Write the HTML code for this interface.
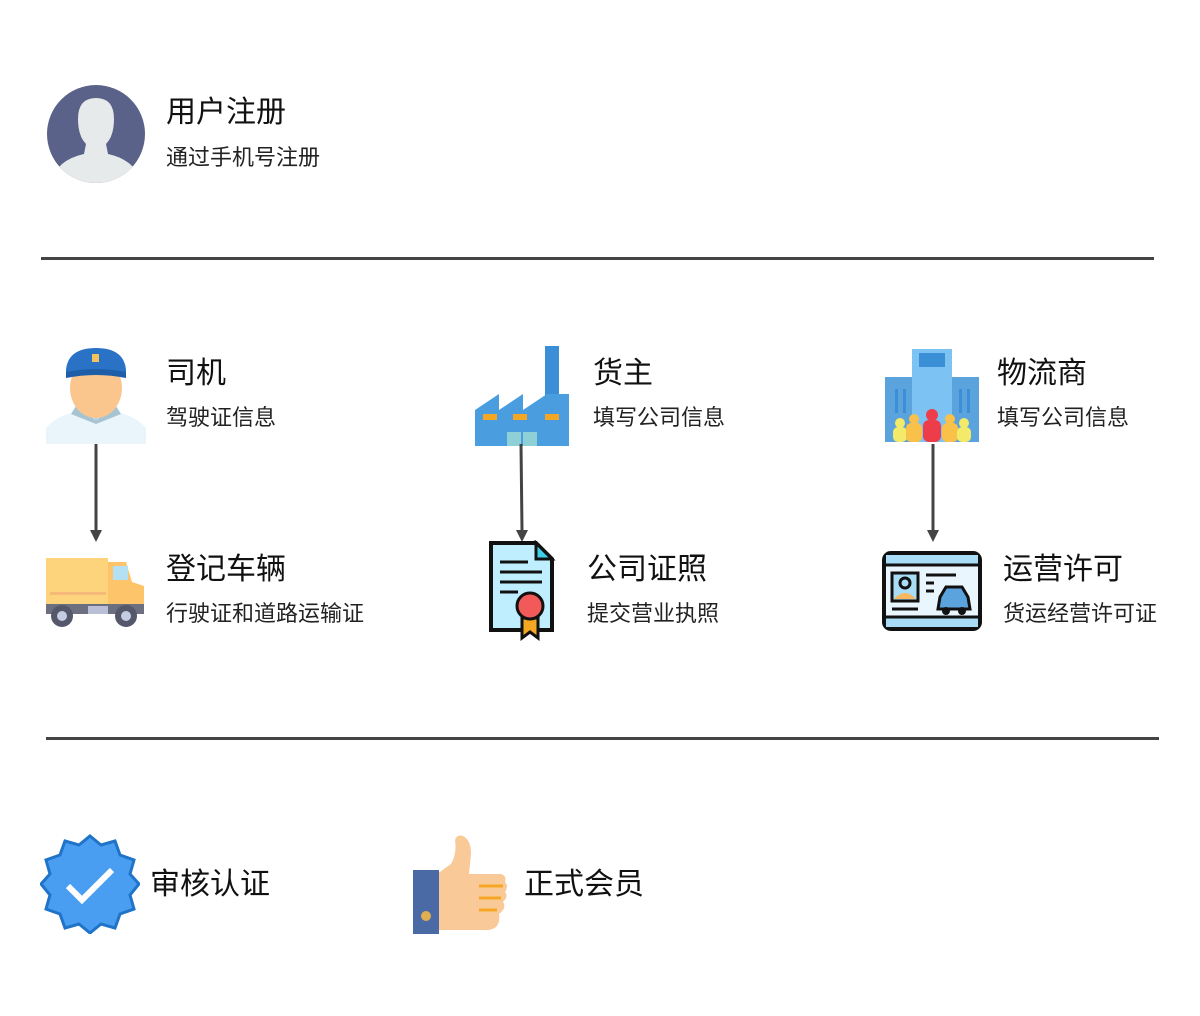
<!DOCTYPE html>
<html><head><meta charset="utf-8"><style>
body{margin:0;width:1200px;height:1016px;background:#fff;position:relative;overflow:hidden;font-family:"Liberation Sans","Noto Sans CJK SC",sans-serif;color:#111}
.t{position:absolute;font-size:30px;line-height:34px;white-space:nowrap}
.s{position:absolute;font-size:22px;line-height:26px;white-space:nowrap;color:#222}
.hr{position:absolute;height:3px;background:#444}
svg{position:absolute}
</style></head><body>
<svg style="left:46px;top:84px" width="100" height="100" viewBox="0 0 100 100">
<defs><clipPath id="c"><circle cx="50" cy="50" r="49"/></clipPath></defs>
<circle cx="50" cy="50" r="49" fill="#5a6289"/>
<g clip-path="url(#c)" fill="#e6eaea">
<path d="M32 35 Q32 14 50 14 Q68 14 68 35 Q68 52 60 60 L62 70 Q90 76 96 100 L4 100 Q10 76 38 70 L40 60 Q32 52 32 35Z"/></g></svg>
<div class="t" style="left:166px;top:96px">用户注册</div>
<div class="s" style="left:166px;top:145px">通过手机号注册</div>
<div class="hr" style="left:41px;top:257px;width:1113px"></div>

<svg style="left:46px;top:348px" width="100" height="96" viewBox="0 0 100 96">
<path d="M0 96 L0 80 Q10 68 30 64 L70 64 Q90 68 100 80 L100 96Z" fill="#eaf4fb"/>
<path d="M30 58 L50 72 L70 58 L75 66 L50 76 L25 66Z" fill="#a8c4d2"/>
<path d="M40 56 L60 56 L50 72Z" fill="#a8c4d2"/>
<ellipse cx="50" cy="40" rx="26" ry="30" fill="#fbc68e"/>
<path d="M20 22 Q22 0 50 0 Q78 0 80 22 L80 28 Q50 22 20 28Z" fill="#2a72c6"/>
<path d="M20 24 Q50 18 80 24 L80 30 Q50 24 20 30Z" fill="#1e5ea8"/>
<rect x="46" y="6" width="7" height="8" fill="#f6c35a"/></svg>
<div class="t" style="left:166px;top:357px">司机</div>
<div class="s" style="left:166px;top:405px">驾驶证信息</div>
<svg style="left:88px;top:444px" width="16" height="100"><line x1="8" y1="0" x2="8" y2="86" stroke="#444" stroke-width="3"/><path d="M2 86 L14 86 L8 98Z" fill="#444"/></svg>

<svg style="left:46px;top:556px" width="100" height="72" viewBox="0 0 100 72">
<rect x="0" y="2" width="62" height="46" fill="#fdd47b"/>
<rect x="4" y="36" width="56" height="3" fill="#f6b97a"/>
<path d="M62 6 L80 6 L86 26 L98 30 L98 56 L62 56Z" fill="#fdc46a"/>
<rect x="67" y="10" width="15" height="14" fill="#b4e0f4"/>
<rect x="0" y="48" width="98" height="10" fill="#6b6f80"/>
<rect x="42" y="50" width="20" height="8" fill="#b9bfd6"/>
<circle cx="16" cy="60" r="11" fill="#55586a"/><circle cx="16" cy="60" r="5" fill="#c5cbe0"/>
<circle cx="80" cy="60" r="11" fill="#55586a"/><circle cx="80" cy="60" r="5" fill="#c5cbe0"/></svg>
<div class="t" style="left:166px;top:553px">登记车辆</div>
<div class="s" style="left:166px;top:601px">行驶证和道路运输证</div>

<svg style="left:475px;top:346px" width="94" height="100" viewBox="0 0 94 100">
<rect x="70" y="0" width="14" height="60" fill="#3b8fd6"/>
<path d="M0 64 L24 48 L24 64 L48 48 L48 64 L72 48 L94 48 L94 100 L0 100Z" fill="#4a9ee0"/>
<rect x="8" y="68" width="14" height="6" fill="#f5a623"/><rect x="38" y="68" width="14" height="6" fill="#f5a623"/><rect x="70" y="68" width="14" height="6" fill="#f5a623"/>
<rect x="32" y="86" width="14" height="14" fill="#8ed0d6"/><rect x="48" y="86" width="14" height="14" fill="#8ed0d6"/></svg>
<div class="t" style="left:593px;top:357px">货主</div>
<div class="s" style="left:593px;top:405px">填写公司信息</div>
<svg style="left:514px;top:444px" width="16" height="100"><line x1="7" y1="0" x2="8" y2="86" stroke="#444" stroke-width="3"/><path d="M2 86 L14 86 L8 98Z" fill="#444"/></svg>

<svg style="left:488px;top:540px" width="68" height="102" viewBox="0 0 68 102">
<path d="M3 3 L48 3 L64 19 L64 90 L3 90Z" fill="#bfefff" stroke="#111" stroke-width="4"/>
<path d="M48 3 L48 19 L64 19Z" fill="#3ed0e8" stroke="#111" stroke-width="3"/>
<g stroke="#111" stroke-width="3"><line x1="12" y1="22" x2="40" y2="22"/><line x1="12" y1="32" x2="54" y2="32"/><line x1="12" y1="42" x2="54" y2="42"/><line x1="12" y1="52" x2="30" y2="52"/></g>
<path d="M34 78 L34 98 L42 92 L50 98 L50 78Z" fill="#f5a623" stroke="#111" stroke-width="3"/>
<circle cx="42" cy="66" r="13" fill="#f25a5a" stroke="#111" stroke-width="3"/></svg>
<div class="t" style="left:587px;top:553px">公司证照</div>
<div class="s" style="left:587px;top:601px">提交营业执照</div>

<svg style="left:885px;top:349px" width="94" height="93" viewBox="0 0 94 93">
<rect x="0" y="28" width="94" height="65" fill="#5aa3dd"/>
<rect x="27" y="0" width="40" height="93" fill="#7cc2f2"/>
<rect x="34" y="4" width="26" height="14" fill="#3b8fd6"/>
<g fill="#3b8fd6"><rect x="10" y="40" width="3" height="24"/><rect x="18" y="40" width="3" height="24"/><rect x="74" y="40" width="3" height="24"/><rect x="82" y="40" width="3" height="24"/></g>
<g><circle cx="15" cy="74" r="5" fill="#f4ea6a"/><rect x="8" y="78" width="14" height="15" rx="5" fill="#f4ea6a"/>
<circle cx="29" cy="70" r="5" fill="#f9c04a"/><rect x="21" y="74" width="16" height="19" rx="5" fill="#f9c04a"/>
<circle cx="65" cy="70" r="5" fill="#f9c04a"/><rect x="57" y="74" width="16" height="19" rx="5" fill="#f9c04a"/>
<circle cx="79" cy="74" r="5" fill="#f4ea6a"/><rect x="72" y="78" width="14" height="15" rx="5" fill="#f4ea6a"/>
<circle cx="47" cy="66" r="6" fill="#ee3d4a"/><rect x="38" y="71" width="18" height="22" rx="6" fill="#ee3d4a"/></g></svg>
<div class="t" style="left:997px;top:357px">物流商</div>
<div class="s" style="left:997px;top:405px">填写公司信息</div>
<svg style="left:925px;top:444px" width="16" height="100"><line x1="8" y1="0" x2="8" y2="86" stroke="#444" stroke-width="3"/><path d="M2 86 L14 86 L8 98Z" fill="#444"/></svg>

<svg style="left:882px;top:551px" width="100" height="80" viewBox="0 0 100 80">
<rect x="2" y="2" width="96" height="76" rx="7" fill="#eaf6fd" stroke="#111" stroke-width="4"/>
<rect x="4" y="4" width="92" height="10" fill="#a9dcf6"/><rect x="4" y="66" width="92" height="10" fill="#a9dcf6"/>
<line x1="2" y1="14" x2="98" y2="14" stroke="#111" stroke-width="3"/><line x1="2" y1="66" x2="98" y2="66" stroke="#111" stroke-width="3"/>
<rect x="10" y="22" width="26" height="28" fill="#a9dcf6" stroke="#111" stroke-width="3"/>
<circle cx="23" cy="32" r="5" fill="none" stroke="#111" stroke-width="3"/><path d="M12 48 Q23 36 34 48Z" fill="#f6b860"/>
<g stroke="#111" stroke-width="3"><line x1="44" y1="24" x2="74" y2="24"/><line x1="44" y1="32" x2="52" y2="32"/><line x1="44" y1="40" x2="52" y2="40"/><line x1="10" y1="58" x2="36" y2="58"/></g>
<path d="M58 46 L64 36 L80 36 L86 46 L88 58 L56 58Z" fill="#5aa3dd" stroke="#111" stroke-width="3"/>
<circle cx="64" cy="60" r="4" fill="#111"/><circle cx="80" cy="60" r="4" fill="#111"/></svg>
<div class="t" style="left:1003px;top:553px">运营许可</div>
<div class="s" style="left:1003px;top:601px">货运经营许可证</div>

<div class="hr" style="left:46px;top:737px;width:1113px"></div>

<svg style="left:40px;top:834px" width="100" height="100" viewBox="0 0 100 100">
<path d="M50 2 L61 11 L75 7 L80 21 L94 26 L90 40 L99 50 L90 61 L94 75 L80 80 L75 94 L61 90 L50 99 L39 90 L25 94 L20 80 L6 75 L10 61 L1 50 L10 40 L6 26 L20 21 L25 7 L39 11Z" fill="#4a9ef2" stroke="#1f74c8" stroke-width="3"/>
<path d="M28 52 L42 66 L72 36" fill="none" stroke="#fff" stroke-width="6"/></svg>
<div class="t" style="left:150px;top:868px">审核认证</div>

<svg style="left:413px;top:834px" width="96" height="100" viewBox="0 0 96 100">
<path d="M24 40 L38 30 Q44 20 42 6 Q44 0 50 2 Q58 6 58 20 L56 40 L88 40 Q94 42 92 48 Q96 52 92 58 Q96 62 90 68 Q94 74 86 80 Q88 94 76 96 L24 96Z" fill="#f9c998"/>
<g stroke="#f5a623" stroke-width="3"><line x1="66" y1="52" x2="90" y2="52"/><line x1="66" y1="64" x2="88" y2="64"/><line x1="66" y1="76" x2="84" y2="76"/></g>
<rect x="0" y="36" width="26" height="64" fill="#4a6aa6"/><circle cx="13" cy="82" r="5" fill="#e0b050"/></svg>
<div class="t" style="left:524px;top:868px">正式会员</div>
</body></html>
